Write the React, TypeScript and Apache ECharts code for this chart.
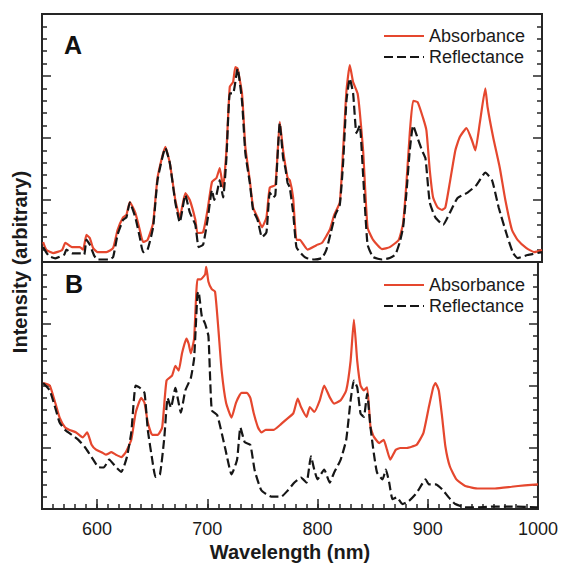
import React, { useEffect, useRef } from 'react';
import * as echarts from 'echarts';

// Wavelength tick labels (nm)
const xTickLabels = [600, 700, 800, 900, 1000];

// Panel A – Absorbance
const absA_nm = [551,554,560,568,571,577,584,587,590,593,596,600,608,614,618,623,626,629,634,638,641,645,650,654,661,665,670,674,679,683,688,690,695,699,703,707,710,713,716,719,722,724,726,730,733,737,740,744,748,752,755,760,764,767,771,773,776,779,782,789,797,802,809,813,818,821,824,827,830,834,836,839,843,848,856,863,871,875,878,881,884,888,893,896,899,902,906,910,913,917,922,926,932,937,940,944,949,951,956,962,967,973,978,986,993,1000];
const absA_val = [8,4.8,3.6,4.8,7.7,6,6,5,10.9,9.7,5.6,4,4,5.6,12.9,18,19,24.2,19.8,12.9,8.1,8.9,15.7,34,46.4,40,25,18,27.8,25,17,11.7,12.1,21,32.3,33.9,37.9,30,45,70.6,72.6,78.6,78,68,46.4,33,22,18,14,18,30,31,56.5,45,34,33,26,8.9,8.9,5,6.8,7.7,13,19,24,45,69,79.4,72.6,68,60.5,45,14,8.9,5.2,6,8.9,15.7,31.9,52,65,64.5,58,53,37,26,22,21,22,31.9,45,50.4,54,49,45,56,70,62.5,50.4,38,25,12.9,8.9,5.6,4,4.8];

// Panel A – Reflectance
const refA_nm = [551,556,562,570,572,577,585,588,590,593,597,600,610,614,618,623,626,629,634,638,641,645,650,654,661,665,670,674,679,683,688,691,695,699,703,705,707,710,713,716,719,722,726,730,733,737,740,744,748,752,755,758,760,764,767,769,771,773,776,779,784,788,795,802,806,810,814,818,821,824,827,830,833,836,839,843,848,856,863,868,872,875,878,881,884,888,892,895,896,899,904,911,917,924,933,941,949,955,961,969,974,978,987,1000];
const refA_val = [6,2.5,1.5,3,5,3.5,3.5,3,9,7,2.5,1,1,2,11,17,18,24,18,10,4,5,14,33,46,40,24,16,27,20,15,6,7,17,29,25,27,33,26,42,68,68,78,65,44,32,21,17,10,12,28,26,27,56,42,38,32,30,20,6,3,1.6,1,1.6,5,12,19,23,40,65,74,68,52,55,35,7,2,1,1.6,3,8,14,28,45,55,50,45,42,38,24,18,15,19.8,25.8,28,31,36,33,22,10,3.6,1.6,2.8,4];

// Panel B – Absorbance
const absB_nm = [551,557,562,566,571,575,581,587,591,595,599,604,608,613,617,622,626,631,635,640,643,646,650,655,659,663,668,671,674,677,681,683,685,688,691,694,698,699,701,704,707,710,713,717,722,726,731,736,739,742,746,749,753,760,766,771,778,782,785,790,793,797,802,806,811,815,821,826,830,833,836,839,842,845,848,851,856,860,863,866,871,875,881,886,890,896,901,905,907,910,913,916,920,926,934,946,961,976,988,1000];
const absB_val = [51,50,43,37,33,32,31,29,31,26,24,23,22,23,22,21,23,28,39,45,43,35,30,30,33,52,54,58,56,63,69,67,63,69,93,93,95,98,92,89,88,73,56,43,37,43,47,47,45,39,33,31,32,32,34,36,38.7,44.7,41.3,37.3,41.3,39.3,44,50,45.3,42.7,44,48,60,76.7,60,50,48,49.3,33.3,29.3,26.7,28,24,20,24,24.7,24.7,25.3,26,30.7,41.3,49.3,51,48,37.3,25.3,17.3,12,9.3,8.3,8.3,9,9.6,10];

// Panel B – Reflectance
const refB_nm = [551,557,562,566,571,577,583,589,595,601,606,611,617,622,627,631,635,639,643,646,650,653,657,661,664,667,671,676,680,685,688,691,692,695,698,701,704,709,716,722,727,730,734,739,743,749,758,767,773,779,785,790,794,797,800,806,811,815,821,826,830,833,836,839,842,845,848,851,854,859,862,865,868,872,877,883,889,892,898,901,907,913,919,925,934,946,961,976,1000];
const refB_val = [51,48,41,35,32,30,28,25,21,17,16.8,20,17,15,21,31,50,49,47,32,20,13,14,29,45,41,49,39,48,53,61,87,88,78,75,70,40,38,25,14,20,33,27,26,15.6,7.6,5,5,7.5,10.7,12.7,10.7,21.3,16,12,16,10.7,14.7,20,28,44,52,49.3,38.7,37.3,46.7,33.3,22.7,14.7,12,16,10.7,4,4.7,2,3.3,6,8,12,10,10,8,4.7,2,0.7,0.7,1,1,0.7];

const seriesNames = ['Absorbance', 'Reflectance'];

function pairs(xs: number[], ys: number[]) {
  return xs.map((x, i) => [x, ys[i]]);
}

export default function App() {
  const ref = useRef<HTMLDivElement>(null);
  useEffect(() => {
    document.body.style.margin = '0';
    const chart = echarts.init(ref.current!, null, { renderer: 'svg' });
    const FONT = "'Liberation Sans', Arial, Helvetica, sans-serif";
    const RED = '#e5472e';
    const BLACK = '#161616';
    const FRAME = '#262626';
    const TEXT = '#1a1a1a';

    const yAxis = (gridIndex: number, position: string) => ({
      type: 'value',
      gridIndex,
      position,
      min: 0,
      max: 100,
      interval: 25,
      axisLine: { show: false },
      axisLabel: { show: false },
      splitLine: { show: false },
      axisTick: { show: true, inside: true, length: 9, lineStyle: { color: FRAME, width: 1.5 } },
      minorTick: { show: true, splitNumber: 5, length: 5, lineStyle: { color: FRAME, width: 1.5 } },
      minorSplitLine: { show: false },
    });

    const lineSeries = (name: string, xi: number, yi: number, data: number[][]) => ({
      name,
      type: 'line',
      xAxisIndex: xi,
      yAxisIndex: yi,
      data,
      symbol: 'none',
      smooth: 0.15,
      z: name === 'Reflectance' ? 3 : 2,
      itemStyle: { color: name === 'Reflectance' ? BLACK : RED },
      lineStyle:
        name === 'Reflectance'
          ? { color: BLACK, width: 2.2, type: [9, 4] }
          : { color: RED, width: 2.2 },
    });

    const legend = (top: number) => ({
      data: seriesNames,
      orient: 'vertical',
      left: 383,
      top,
      padding: 0,
      itemWidth: 40,
      itemHeight: 14,
      itemGap: 3,
      selectedMode: false,
      itemStyle: { opacity: 0 },
      textStyle: { fontSize: 18, color: TEXT, fontFamily: FONT },
    });

    chart.setOption({
      animation: false,
      backgroundColor: '#ffffff',
      grid: [
        { left: 42, top: 14, width: 500, height: 248, show: true, borderColor: FRAME, borderWidth: 2, backgroundColor: 'transparent' },
        { left: 42, top: 262, width: 500, height: 250, show: true, borderColor: FRAME, borderWidth: 2, backgroundColor: 'transparent' },
      ],
      xAxis: [
        { type: 'value', gridIndex: 0, min: 550, max: 1000, show: false },
        {
          type: 'value', gridIndex: 1, min: 550, max: 1000, interval: 10, position: 'bottom',
          axisLine: { show: false }, splitLine: { show: false },
          axisTick: { show: true, inside: true, length: 5, lineStyle: { color: FRAME, width: 1.5 } },
          axisLabel: { customValues: xTickLabels, formatter: (v: number) => String(v), fontSize: 18, color: TEXT, margin: 11, fontFamily: FONT },
          name: 'Wavelength (nm)', nameLocation: 'middle', nameGap: 33,
          nameTextStyle: { fontSize: 20, fontWeight: 'bold', color: TEXT, fontFamily: FONT },
        },
        {
          type: 'value', gridIndex: 1, min: 550, max: 1000, position: 'bottom',
          axisLine: { show: false }, splitLine: { show: false }, axisLabel: { show: false },
          axisTick: { show: true, inside: true, length: 10, customValues: xTickLabels, lineStyle: { color: FRAME, width: 1.5 } },
        },
      ],
      yAxis: [yAxis(0, 'left'), yAxis(0, 'right'), yAxis(1, 'left'), yAxis(1, 'right')],
      legend: [legend(27), legend(276)],
      series: [
        lineSeries('Absorbance', 0, 0, pairs(absA_nm, absA_val)),
        lineSeries('Reflectance', 0, 0, pairs(refA_nm, refA_val)),
        lineSeries('Absorbance', 1, 2, pairs(absB_nm, absB_val)),
        lineSeries('Reflectance', 1, 2, pairs(refB_nm, refB_val)),
      ],
      graphic: [
        { type: 'text', x: 73, y: 45, style: { text: 'A', fontSize: 25, fontWeight: 'bold', fontFamily: FONT, fill: '#111', textAlign: 'center', textVerticalAlign: 'middle' } },
        { type: 'text', x: 74, y: 284, style: { text: 'B', fontSize: 25, fontWeight: 'bold', fontFamily: FONT, fill: '#111', textAlign: 'center', textVerticalAlign: 'middle' } },
        { type: 'text', x: 20, y: 262, rotation: Math.PI / 2, style: { text: 'Intensity (arbitrary)', fontSize: 20, fontWeight: 'bold', fontFamily: FONT, fill: TEXT, textAlign: 'center', textVerticalAlign: 'middle' } },
      ],
    });
    return () => chart.dispose();
  }, []);
  return <div ref={ref} style={{ position: 'fixed', left: 0, top: 0, width: 561, height: 563 }} />;
}
